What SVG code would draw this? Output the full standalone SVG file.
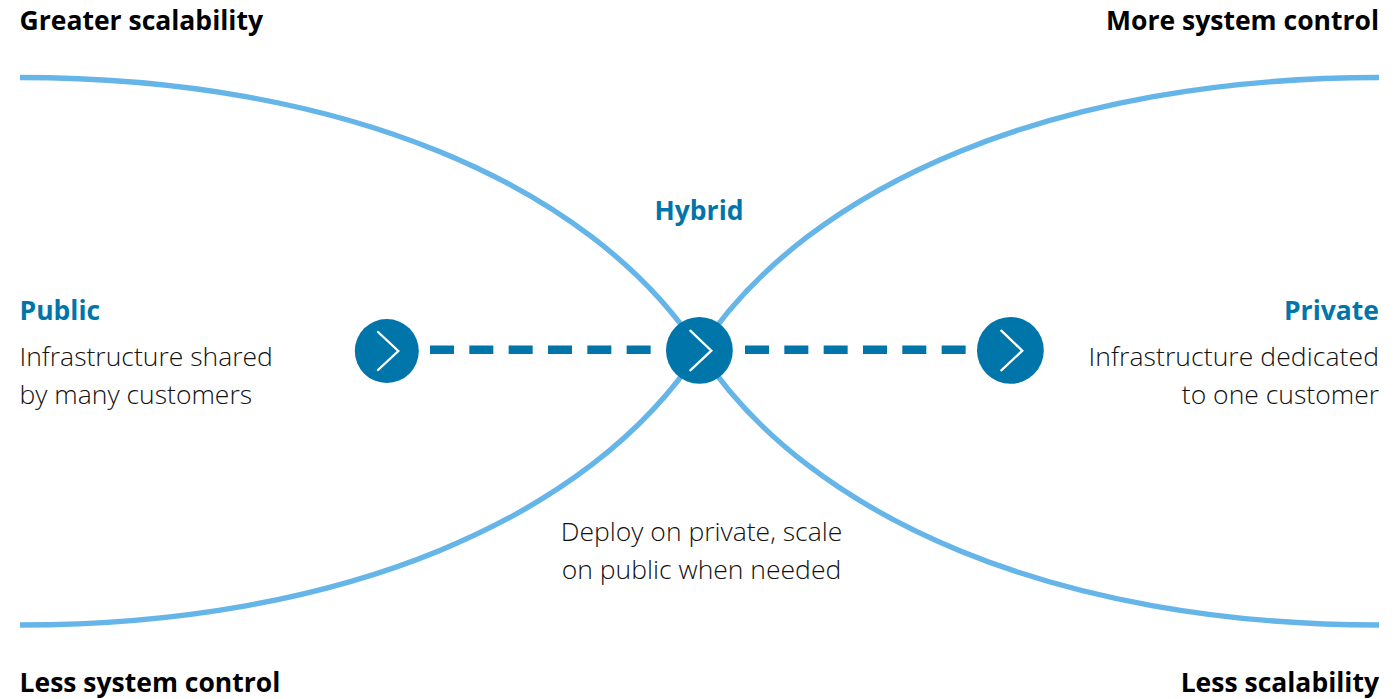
<svg xmlns="http://www.w3.org/2000/svg" width="1394" height="699" viewBox="0 0 1394 699">
<style>
.c{fill:none;stroke:#66b5e8;stroke-width:5.3}
.d{fill:none;stroke:#0075a9;stroke-width:8.6;stroke-dasharray:24 15.33}
.n{fill:#0075a9}
.v{fill:none;stroke:#fff;stroke-width:2.3;stroke-linecap:round;stroke-linejoin:miter}
text{font-family:"Open Sans",sans-serif;font-size:26.5px}
.b{font-weight:700;fill:#000}
.h{font-weight:700;fill:#0075a9}
.t{font-weight:300;fill:#111}
.e{text-anchor:end}
.m{text-anchor:middle}
</style>
<g id="connectors">
<path class="c" d="M20 77.500C340 77.500 590 183 699.500 350.500C809 519 1059 625 1379 625"/>
<path class="c" d="M1379 77.500C1059 77.500 809 183 699.500 350.500C590 519 340 625 20 625"/>
<path class="d" d="M430 349.800H651"/>
<path class="d" d="M745 349.800H966"/>
</g>
<g id="node-public"><circle class="n" cx="386.800" cy="351" r="32"/><path class="v" d="M378 332L398.300 351L378 370"/>
<text class="h" x="19.500" y="320">Public</text>
<text class="t" x="19.500" y="366">Infrastructure shared</text>
<text class="t" x="19.500" y="404">by many customers</text></g>
<g id="node-hybrid"><circle class="n" cx="699.400" cy="350.400" r="33.400"/><path class="v" d="M690.300 330.700L711.300 350.700L690.300 370.300"/>
<text class="h m" x="699" y="220">Hybrid</text>
<text class="t m" x="701.500" y="541">Deploy on private, scale</text>
<text class="t m" x="701.500" y="579">on public when needed</text></g>
<g id="node-private"><circle class="n" cx="1010.400" cy="350.400" r="33.400"/><path class="v" d="M1001.300 330.700L1022.300 350.700L1001.300 370.300"/>
<text class="h e" x="1379" y="320">Private</text>
<text class="t e" x="1379" y="366" letter-spacing="0.080">Infrastructure dedicated</text>
<text class="t e" x="1379" y="404">to one customer</text></g>
<g id="labels">
<text class="b" x="19.500" y="30">Greater scalability</text>
<text class="b e" x="1379" y="30">More system control</text>
<text class="b" x="19.500" y="692">Less system control</text>
<text class="b e" x="1379" y="692">Less scalability</text>
</g>
</svg>
